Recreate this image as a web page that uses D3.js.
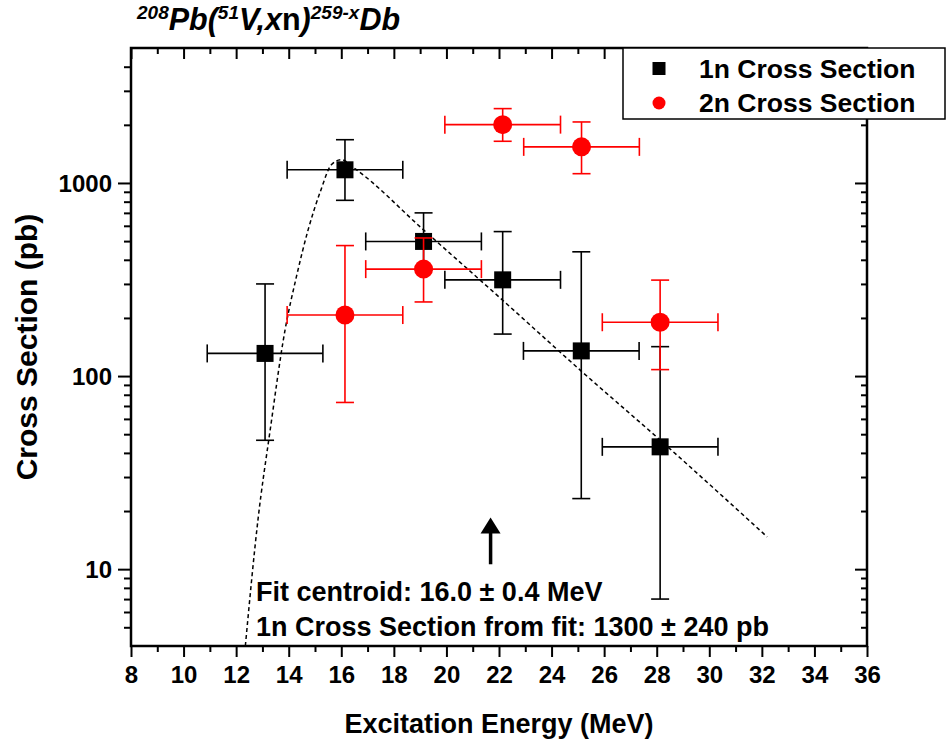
<!DOCTYPE html>
<html><head><meta charset="utf-8">
<script src="https://cdn.jsdelivr.net/npm/d3@7"></script>
<style>
body{margin:0;background:#fff}
svg{display:block}
text{font-family:"Liberation Sans",Arial,Helvetica,sans-serif;font-weight:bold;fill:#000}
</style>
</head><body>
<svg id="c" width="946" height="742"></svg>
<script>
// ---------- data ----------
const energy1n   = [13.1, 16.14, 19.13, 22.14, 25.13, 28.13];
const xsec1n     = [131, 1170, 498, 315, 135, 43];
const xsec1nHigh = [300, 1675, 700, 560, 440, 142];
const xsec1nLow  = [46.5, 813, 355, 165, 23.2, 7.0];
const energy1nErr = [2.2, 2.2, 2.2, 2.2, 2.2, 2.2];

const energy2n   = [16.14, 19.13, 22.14, 25.14, 28.13];
const xsec2n     = [207, 358, 2005, 1538, 190];
const xsec2nHigh = [474, 519, 2427, 2070, 314];
const xsec2nLow  = [73, 242, 1644, 1117, 108];
const energy2nErr = [2.2, 2.2, 2.2, 2.2, 2.2];

const fitEnergy = [12.35, 12.83, 13.29, 13.86, 14.3, 14.74, 15.2, 15.63, 16.0, 16.5, 19.12, 22.14, 25.1, 28.13, 32.2];
const fitXsec   = [4, 18, 52, 173, 330, 573, 900, 1245, 1320, 1190, 573, 247, 107, 46.6, 14.7];

const xTickLabels = [8,10,12,14,16,18,20,22,24,26,28,30,32,34,36];
const xMinorTicks = [9,11,13,15,17,19,21,23,25,27,29,31,33,35];
const yTickLabels = [10,100,1000];
const yMinorTicks = [5,6,7,8,9,20,30,40,50,60,70,80,90,200,300,400,500,600,700,800,900,2000,3000,4000];

const legendLabels = ["1n Cross Section","2n Cross Section"];
const arrowEnergy = 21.68, arrowTip = 18.5, arrowBase = 10.6;
const annotLines = ["Fit centroid: 16.0 \u00b1 0.4 MeV","1n Cross Section from fit: 1300 \u00b1 240 pb"];

// ---------- layout ----------
const L=131,R=867,T=48,B=646;
const x=d3.scaleLinear().domain([8,36]).range([L,R]);
const y=d3.scaleLog().domain([4,5000]).range([B,T]);
const svg=d3.select('#c');
svg.append('rect').attr('width',946).attr('height',742).attr('fill','#fff');
svg.append('clipPath').attr('id','clip').append('rect').attr('x',L).attr('y',T).attr('width',R-L).attr('height',B-T);

function styleAxis(g){g.select('.domain').remove();g.selectAll('line').attr('stroke','#000').attr('stroke-width',2);}
// bottom
const gb=svg.append('g').attr('transform',`translate(0,${B})`);
gb.call(d3.axisBottom(x).tickValues(xTickLabels).tickSize(11).tickFormat(d3.format('d'))).call(styleAxis);
gb.selectAll('text').attr('dy',null).attr('y',37).attr('font-size',24);
svg.append('g').attr('transform',`translate(0,${B})`).call(d3.axisBottom(x).tickValues(xMinorTicks).tickSize(6).tickFormat('')).call(styleAxis);
// top
svg.append('g').attr('transform',`translate(0,${T})`).call(d3.axisBottom(x).tickValues(xTickLabels).tickSize(11).tickFormat('')).call(styleAxis);
svg.append('g').attr('transform',`translate(0,${T})`).call(d3.axisBottom(x).tickValues(xMinorTicks).tickSize(6).tickFormat('')).call(styleAxis);
// left
const gl=svg.append('g').attr('transform',`translate(${L},0)`);
gl.call(d3.axisLeft(y).tickValues(yTickLabels).tickSize(13).tickFormat(d3.format('d'))).call(styleAxis);
gl.selectAll('text').attr('x',-19).attr('dy','0.36em').attr('font-size',24);
svg.append('g').attr('transform',`translate(${L},0)`).call(d3.axisLeft(y).tickValues(yMinorTicks).tickSize(7).tickFormat('')).call(styleAxis);
// right
svg.append('g').attr('transform',`translate(${R},0)`).call(d3.axisLeft(y).tickValues(yTickLabels).tickSize(12).tickFormat('')).call(styleAxis);
svg.append('g').attr('transform',`translate(${R},0)`).call(d3.axisLeft(y).tickValues(yMinorTicks).tickSize(6).tickFormat('')).call(styleAxis);
// frame
svg.append('rect').attr('x',L).attr('y',T).attr('width',R-L).attr('height',B-T).attr('fill','none').attr('stroke','#000').attr('stroke-width',2.5);

// ---------- fit curve ----------
const fitPts=fitEnergy.map((e,i)=>[e,fitXsec[i]]);
svg.append('path').attr('clip-path','url(#clip)')
  .attr('d',d3.line().x(d=>x(d[0])).y(d=>y(d[1])).curve(d3.curveMonotoneX)(fitPts))
  .attr('fill','none').attr('stroke','#000').attr('stroke-width',1.5).attr('stroke-dasharray','4,3');

// ---------- error bars ----------
function errorBars(E,V,Hi,Lo,Ex,color){
  const g=svg.append('g').attr('stroke',color).attr('stroke-width',1.6).attr('fill','none');
  const cap=9;
  E.forEach((e,i)=>{
    const cx=x(e), cy=y(V[i]), yh=y(Hi[i]), yl=y(Lo[i]), xl=x(e-Ex[i]), xr=x(e+Ex[i]);
    g.append('line').attr('x1',cx).attr('x2',cx).attr('y1',yh).attr('y2',yl);
    g.append('line').attr('x1',cx-cap).attr('x2',cx+cap).attr('y1',yh).attr('y2',yh);
    g.append('line').attr('x1',cx-cap).attr('x2',cx+cap).attr('y1',yl).attr('y2',yl);
    g.append('line').attr('x1',xl).attr('x2',xr).attr('y1',cy).attr('y2',cy);
    g.append('line').attr('x1',xl).attr('x2',xl).attr('y1',cy-cap).attr('y2',cy+cap);
    g.append('line').attr('x1',xr).attr('x2',xr).attr('y1',cy-cap).attr('y2',cy+cap);
  });
}
errorBars(energy1n,xsec1n,xsec1nHigh,xsec1nLow,energy1nErr,'#000');
const sq=17;
svg.append('g').selectAll('rect').data(energy1n).join('rect')
  .attr('x',(d)=>x(d)-sq/2).attr('y',(d,i)=>y(xsec1n[i])-sq/2).attr('width',sq).attr('height',sq).attr('fill','#000');
errorBars(energy2n,xsec2n,xsec2nHigh,xsec2nLow,energy2nErr,'#ff0000');
svg.append('g').selectAll('circle').data(energy2n).join('circle')
  .attr('cx',d=>x(d)).attr('cy',(d,i)=>y(xsec2n[i])).attr('r',9.5).attr('fill','#ff0000');

// ---------- arrow ----------
const ax=x(arrowEnergy), at=y(arrowTip), ab=y(arrowBase);
svg.append('line').attr('x1',ax).attr('x2',ax).attr('y1',at+14).attr('y2',ab).attr('stroke','#000').attr('stroke-width',3.5);
svg.append('path').attr('d',`M${ax},${at} L${ax-10},${at+16} L${ax+10},${at+16} Z`).attr('fill','#000');

// ---------- annotation ----------
svg.append('text').attr('x',256).attr('y',601).attr('font-size',27).text(annotLines[0]);
svg.append('text').attr('x',256).attr('y',636).attr('font-size',27).text(annotLines[1]);

// ---------- axis titles ----------
svg.append('text').attr('x',(L+R)/2).attr('y',733).attr('text-anchor','middle').attr('font-size',27).text('Excitation Energy (MeV)');
svg.append('text').attr('transform',`translate(37,${(T+B)/2}) rotate(-90)`).attr('text-anchor','middle').attr('font-size',30).text('Cross Section (pb)');

// ---------- title ----------
const tt=svg.append('text').attr('x',137).attr('y',30).attr('font-style','italic').attr('font-size',30.5);
tt.append('tspan').attr('font-size',19).attr('dy',-11).text('208');
tt.append('tspan').attr('dy',11).text('Pb(');
tt.append('tspan').attr('font-size',19).attr('dy',-11).text('51');
tt.append('tspan').attr('dy',11).text('V,x');
tt.append('tspan').attr('font-style','normal').text('n');
tt.append('tspan').text(')');
tt.append('tspan').attr('font-size',19).attr('dy',-11).text('259-x');
tt.append('tspan').attr('dy',11).text('Db');

// ---------- legend ----------
const lg=svg.append('g');
lg.append('rect').attr('x',623).attr('y',48).attr('width',322).attr('height',71).attr('fill','#fff').attr('stroke','#000').attr('stroke-width',1.5);
lg.append('rect').attr('x',659-6.5).attr('y',68.5-6.5).attr('width',13).attr('height',13).attr('fill','#000');
lg.append('circle').attr('cx',659).attr('cy',103).attr('r',6.5).attr('fill','#ff0000');
lg.append('text').attr('x',699).attr('y',78).attr('font-size',26.5).text(legendLabels[0]);
lg.append('text').attr('x',699).attr('y',112).attr('font-size',26.5).text(legendLabels[1]);
</script>
</body></html>
